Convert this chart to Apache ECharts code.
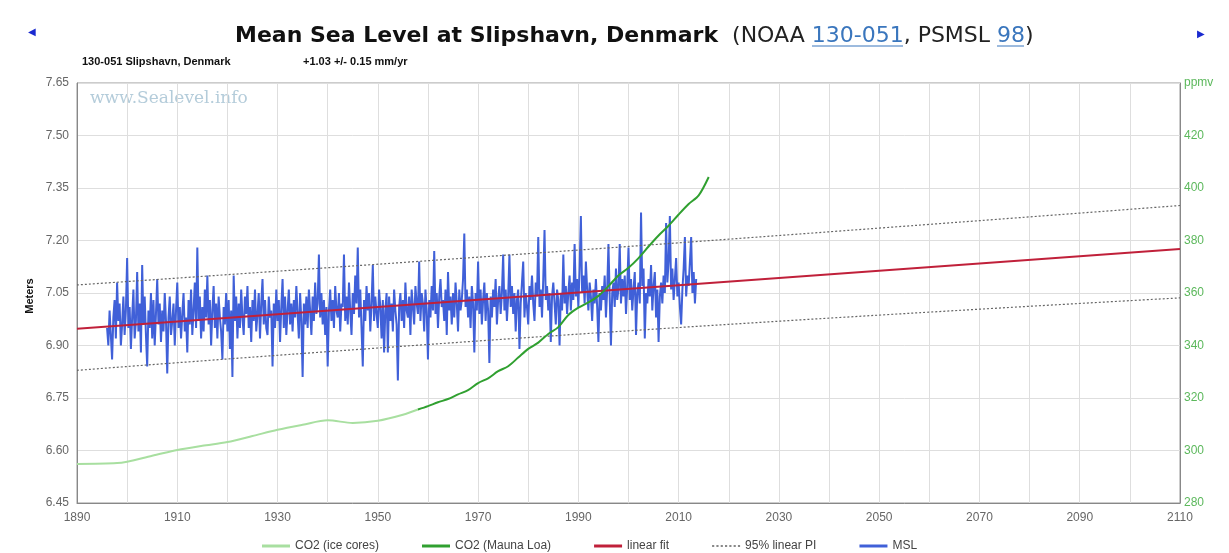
<!DOCTYPE html>
<html><head><meta charset="utf-8">
<script src="https://cdn.jsdelivr.net/npm/echarts@6/dist/echarts.min.js"></script>
<style>html,body{margin:0;padding:0;background:#fff}#c{width:1229px;height:553px}</style>
</head><body><div id="c"></div>
<script>
// ---- data ----
const xTicks = [1890, 1910, 1930, 1950, 1970, 1990, 2010, 2030, 2050, 2070, 2090, 2110];
const iceYears = [1890, 1898, 1905, 1910, 1915, 1920, 1925, 1930, 1935, 1940, 1945, 1950, 1955, 1958];
const iceCO2 = [294.9, 295.2, 298.0, 300.2, 301.8, 303.2, 305.5, 307.9, 309.8, 311.5, 310.5, 311.3, 313.6, 315.6];
const mloYears = [1958, 1960, 1962, 1964, 1966, 1968, 1970, 1972, 1974, 1976, 1978, 1980, 1982, 1984, 1986, 1988, 1990, 1992, 1994, 1996, 1998, 2000, 2002, 2004, 2006, 2008, 2010, 2012, 2014, 2016];
const mloCO2 = [315.6, 316.9, 318.4, 319.6, 321.4, 323.0, 325.7, 327.5, 330.2, 332.1, 335.4, 338.7, 341.1, 344.4, 347.0, 351.6, 354.4, 356.4, 358.9, 362.6, 366.7, 369.6, 373.3, 377.7, 381.9, 385.6, 389.9, 393.9, 397.2, 404.2];
const fitYears = [1890, 2110];
const fitVals = [6.948, 7.176];
const piYears = [1890, 2000, 2110];
const piUpper = [7.073, 7.183, 7.300];
const piLower = [6.829, 6.942, 7.036];
const mslStart = 1896, mslStep = 0.25;
const mslVals = [
6.95,6.90,7.00,6.93, 6.86,6.98,7.03,6.92, 7.08,6.97,7.02,6.90, 6.96,7.04,6.93,7.00,
7.15,6.95,7.01,6.89, 6.98,7.06,6.92,6.97, 7.11,6.94,7.02,6.88, 7.13,6.96,7.04,6.93,
6.84,7.00,6.95,7.05, 6.92,7.03,6.90,6.99, 7.09,6.96,7.02,6.91, 7.00,6.94,7.05,6.97,
6.82,6.98,7.04,6.93, 6.97,7.02,6.90,7.00, 7.08,6.95,7.01,6.92, 6.99,7.05,6.94,6.98,
6.88,7.03,6.96,7.06, 6.93,7.00,7.08,6.95, 7.18,6.97,7.04,6.92, 7.01,6.94,7.06,6.98,
7.10,6.96,7.03,6.90, 7.00,7.07,6.95,7.02, 6.92,7.04,6.98,6.94, 6.86,7.01,6.96,7.05,
6.94,7.03,6.89,7.00, 6.81,7.10,6.97,7.04, 6.92,7.02,6.95,7.06, 6.98,6.93,7.04,6.99,
7.07,6.95,7.01,6.91, 7.03,6.97,7.06,6.94, 6.99,7.05,6.92,7.02, 7.09,6.96,7.03,6.95,
6.93,7.04,6.98,7.00, 6.84,7.02,6.95,7.06, 6.97,7.03,6.91,7.01, 7.09,6.95,7.04,6.93,
7.00,7.06,6.96,7.02, 6.94,7.03,6.98,7.07, 6.99,6.92,7.05,6.97, 6.81,7.02,6.96,7.04,
6.95,7.06,7.00,6.93, 7.04,6.97,7.08,6.99, 7.02,7.16,6.98,7.05, 6.96,7.03,6.93,7.01,
6.84,7.00,7.06,6.97, 7.03,6.95,7.07,7.00, 6.98,7.05,6.94,7.02, 7.01,7.16,6.97,7.04,
6.96,7.08,7.00,6.93, 7.05,6.99,7.10,7.02, 7.18,6.98,7.06,6.95, 6.84,7.03,6.97,7.07,
7.00,7.05,6.94,7.02, 7.13,6.97,7.04,6.99, 6.95,7.06,7.01,6.92, 7.03,6.88,7.00,7.05,
6.88,7.04,6.97,7.02, 6.94,7.06,7.00,6.96, 6.80,7.01,7.05,6.97, 7.03,6.95,7.08,7.00,
6.98,7.04,6.93,7.06, 7.01,6.96,7.07,7.02, 6.99,7.14,6.97,7.05, 7.02,6.94,7.06,7.00,
6.86,7.03,6.98,7.07, 7.00,7.17,6.99,7.05, 6.95,7.04,7.09,7.01, 7.03,6.97,7.06,6.93,
7.11,7.00,7.04,6.96, 7.05,6.98,7.08,7.02, 6.94,7.06,7.00,7.03, 7.09,7.22,7.01,7.06,
6.98,7.04,6.95,7.07, 7.02,6.88,7.05,7.00, 7.14,6.99,7.06,6.96, 7.03,7.08,6.97,7.05,
7.00,6.85,7.04,6.98, 7.06,7.01,7.09,6.96, 7.03,7.07,6.99,7.05, 7.16,7.00,7.06,6.97,
7.04,7.16,7.01,7.07, 6.99,7.05,6.94,7.03, 7.06,6.89,7.02,7.08, 7.14,6.98,7.05,7.01,
6.96,7.07,7.03,7.10, 7.02,6.97,7.08,7.04, 7.21,7.01,7.06,6.98, 7.09,7.23,7.03,7.07,
7.00,7.05,6.91,7.04, 7.08,7.02,6.96,7.06, 7.03,6.90,7.05,7.00, 7.16,7.02,7.07,6.99,
7.05,7.10,7.00,7.08, 7.03,7.19,7.04,7.09, 7.01,7.12,7.27,7.05, 7.10,7.02,7.14,7.06,
7.00,7.08,7.04,6.97, 7.06,7.02,7.09,7.01, 6.91,7.05,7.00,7.07, 7.03,7.10,6.98,7.06,
7.19,7.04,6.90,7.05, 7.08,7.01,7.12,7.03, 7.06,7.19,7.02,7.09, 7.04,7.10,6.99,7.07,
7.18,7.03,7.09,7.00, 7.06,7.11,6.93,7.05, 7.08,7.02,7.28,7.07, 7.12,6.92,7.05,7.02,
7.09,7.04,7.13,7.00, 7.07,7.11,6.98,7.06, 6.91,7.04,7.08,7.02, 7.10,7.05,7.25,7.08,
7.14,7.27,7.06,7.12, 7.03,7.09,7.15,7.04, 7.08,7.01,6.96,7.06, 7.12,7.21,7.04,7.10,
7.07,7.14,7.21,7.05, 7.11,7.02,7.09
];

// ---- build ----
const pair = (xs, ys) => xs.map((x, i) => [x, ys[i]]);
const mslData = mslVals.map((v, i) => [mslStart + i * mslStep, v]);
const font = '"Liberation Sans", Arial, sans-serif';
const tfont = '"DejaVu Sans", Verdana, sans-serif';
const gridColor = '#dedede';
const linkColor = '#3a76bd';
const dotted = 'path://M0,0h2v2h-2zM4,0h2v2h-2zM8,0h2v2h-2zM12,0h2v2h-2zM16,0h2v2h-2zM20,0h2v2h-2zM24,0h2v2h-2z';

const chart = echarts.init(document.getElementById('c'), null, {renderer: 'canvas'});
chart.setOption({
  backgroundColor: '#fff',
  animation: false,
  title: {
    left: 230, top: 20,
    text: '{b|Mean Sea Level at Slipshavn, Denmark}{n|  (NOAA }{l|130-051}{n|, PSMSL }{l|98}{n|)}',
    textStyle: {
      rich: {
        b: {fontFamily: tfont, fontWeight: 'bold', fontSize: 22, color: '#111'},
        n: {fontFamily: tfont, fontWeight: 'normal', fontSize: 22, color: '#222'},
        l: {fontFamily: tfont, fontWeight: 'normal', fontSize: 22, color: linkColor}
      }
    }
  },
  legend: {
    left: 257, top: 535, itemGap: 43, itemWidth: 28, itemHeight: 3,
    textStyle: {fontFamily: font, fontSize: 12, color: '#444'},
    data: [
      {name: 'CO2 (ice cores)', icon: 'rect'},
      {name: 'CO2 (Mauna Loa)', icon: 'rect'},
      {name: 'linear fit', icon: 'rect'},
      {name: '95% linear PI', icon: dotted},
      {name: 'MSL', icon: 'rect'}
    ]
  },
  grid: {left: 77, right: 49, top: 83, bottom: 50, show: true, borderColor: '#999', borderWidth: 1, backgroundColor: '#fff'},
  xAxis: {
    type: 'value', min: xTicks[0], max: xTicks[xTicks.length - 1], interval: 20,
    axisLine: {show: true, lineStyle: {color: '#888'}},
    axisTick: {show: false},
    axisLabel: {color: '#666', fontFamily: font, fontSize: 12, margin: 9, formatter: v => String(v)},
    splitLine: {show: true, lineStyle: {color: gridColor}},
    minorTick: {show: false, splitNumber: 2},
    minorSplitLine: {show: true, lineStyle: {color: gridColor}}
  },
  yAxis: [{
    type: 'value', min: 6.45, max: 7.65, interval: 0.15,
    axisLine: {show: true, lineStyle: {color: '#888'}},
    axisTick: {show: false},
    axisLabel: {color: '#666', fontFamily: font, fontSize: 12, margin: 8, formatter: v => v.toFixed(2)},
    splitLine: {show: true, lineStyle: {color: gridColor}}
  }, {
    type: 'value', min: 280, max: 440, interval: 20, position: 'right',
    axisLine: {show: true, lineStyle: {color: '#888'}},
    axisTick: {show: false},
    axisLabel: {color: '#5cb85c', fontFamily: font, fontSize: 12, margin: 4,
      formatter: v => (v === 440 ? 'ppmv' : String(v))},
    splitLine: {show: false}
  }],
  graphic: [
    {type: 'text', left: 28, top: 27, style: {text: '\u25C0', fontSize: 10, fill: '#1a2ad0'}},
    {type: 'text', left: 1197, top: 29, style: {text: '\u25B6', fontSize: 10, fill: '#1a2ad0'}},
    {type: 'line', shape: {x1: 812, y1: 46, x2: 903, y2: 46}, style: {stroke: linkColor, lineWidth: 1}},
    {type: 'line', shape: {x1: 997, y1: 46, x2: 1024, y2: 46}, style: {stroke: linkColor, lineWidth: 1}},
    {type: 'text', left: 82, top: 56, style: {text: '130-051 Slipshavn, Denmark', font: 'bold 11px "Liberation Sans", Arial, sans-serif', fill: '#111'}},
    {type: 'text', left: 303, top: 56, style: {text: '+1.03 +/- 0.15 mm/yr', font: 'bold 11px "Liberation Sans", Arial, sans-serif', fill: '#111'}},
    {type: 'text', left: 90, top: 90, style: {text: 'www.Sealevel.info', font: '17px "DejaVu Serif", serif', fill: '#b4ccda'}},
    {type: 'text', x: 30, y: 296, rotation: Math.PI / 2, style: {text: 'Meters', font: 'bold 11px "Liberation Sans", Arial, sans-serif', fill: '#111', align: 'center', verticalAlign: 'middle'}}
  ],
  series: [
    {name: 'MSL', type: 'line', data: mslData, symbol: 'none', lineStyle: {color: '#4060d8', width: 2}, itemStyle: {color: '#4060d8'}, z: 2},
    {name: 'linear fit', type: 'line', data: pair(fitYears, fitVals), symbol: 'none', lineStyle: {color: '#c0203a', width: 2}, itemStyle: {color: '#c0203a'}, z: 3},
    {name: '95% linear PI', type: 'line', data: pair(piYears, piUpper), smooth: true, symbol: 'none', lineStyle: {color: '#666', width: 1.2, type: [2, 2]}, itemStyle: {color: '#888'}, z: 3},
    {name: '95% linear PI', type: 'line', data: pair(piYears, piLower), smooth: true, symbol: 'none', lineStyle: {color: '#666', width: 1.2, type: [2, 2]}, itemStyle: {color: '#888'}, z: 3},
    {name: 'CO2 (ice cores)', type: 'line', yAxisIndex: 1, data: pair(iceYears, iceCO2), smooth: 0.3, symbol: 'none', lineStyle: {color: '#a8dfa0', width: 2}, itemStyle: {color: '#a8dfa0'}, z: 4},
    {name: 'CO2 (Mauna Loa)', type: 'line', yAxisIndex: 1, data: pair(mloYears, mloCO2), smooth: 0.3, symbol: 'none', lineStyle: {color: '#30a030', width: 2}, itemStyle: {color: '#30a030'}, z: 4}
  ]
});
</script></body></html>
